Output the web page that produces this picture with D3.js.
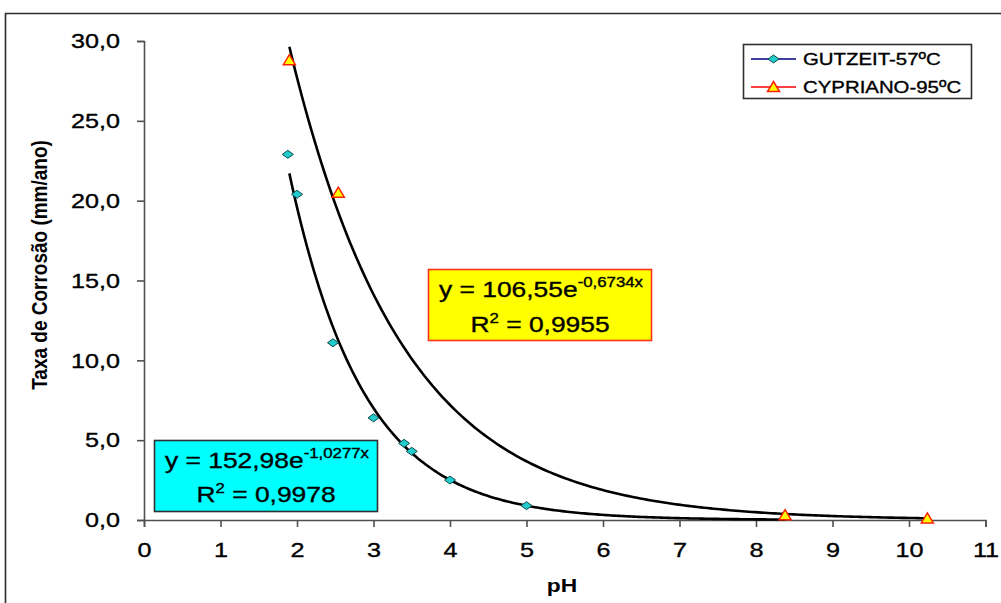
<!DOCTYPE html>
<html>
<head>
<meta charset="utf-8">
<script src="https://cdn.jsdelivr.net/npm/d3@7"></script>
<style>
  html, body { margin: 0; padding: 0; background: #fff; }
  svg { display: block; }
  text { font-family: "Liberation Sans", Arial, sans-serif; fill: #000; }
  text.heavy { stroke: #000; stroke-width: 0.35px; }
</style>
</head>
<body>
<svg id="chart" width="1001" height="603"></svg>
<script>
// ---- data ----
const gutzeitPH   = [1.88, 2.0, 2.47, 3.0, 3.4, 3.5, 4.0, 5.0];
const gutzeitRate = [22.9, 20.4, 11.1, 6.4, 4.8, 4.3, 2.5, 0.9];
const cyprianoPH   = [1.9, 2.54, 8.38, 10.24];
const cyprianoRate = [28.8, 20.5, 0.3, 0.1];
// exponential trend lines y = a * e^(b x), over their x ranges
const gutzeitFit  = [152.98, -1.0277];
const cyprianoFit = [106.55, -0.6734];
const gutzeitFitRange  = [1.9, 8.38];
const cyprianoFitRange = [1.9, 10.24];
const xTicks = [0,1,2,3,4,5,6,7,8,9,10,11];
const yTicks = [0,5,10,15,20,25,30];
const seriesNames = ["GUTZEIT-57ºC", "CYPRIANO-95ºC"];
const xTitle = "pH";
const yTitle = "Taxa de Corrosão (mm/ano)";

const SX = 1.2; // horizontal text stretch seen in the picture
const svg = d3.select("#chart");

// outer frame (left + top edges visible)
svg.append("path")
  .attr("d", "M5.5,603 L5.5,13.5 L1001,13.5")
  .attr("fill", "none").attr("stroke", "#2a2a2a").attr("stroke-width", 1.6);

const x = d3.scaleLinear().domain([0, 11]).range([144, 985.5]);
const y = d3.scaleLinear().domain([0, 30]).range([520, 41]);

function stretchAround(sel, ax, ay) {
  sel.attr("transform", `translate(${ax},${ay}) scale(${SX},1) translate(${-ax},${-ay})`);
}

// axes
const xAxis = d3.axisBottom(x).tickValues(xTicks).tickFormat(d3.format("d"))
  .tickSize(7).tickPadding(15);
const yAxis = d3.axisLeft(y).tickValues(yTicks)
  .tickFormat(d => d3.format(".1f")(d).replace(".", ","))
  .tickSize(7).tickPadding(17);

const gx = svg.append("g").attr("transform", `translate(0,${y(0)})`).call(xAxis);
const gy = svg.append("g").attr("transform", `translate(${x(0)},0)`).call(yAxis);
[gx, gy].forEach(g => {
  g.selectAll("path, line").attr("stroke", "#505050").attr("stroke-width", 1.6);
  g.selectAll("text").attr("font-size", 21).attr("class", "heavy")
    .attr("font-family", "Liberation Sans, Arial, sans-serif").attr("fill", "#000");
});
gx.selectAll(".tick text").each(function() { stretchAround(d3.select(this), 0, 0); });
gy.selectAll(".tick text").each(function() { stretchAround(d3.select(this), -24, 0); });

// axis titles
svg.append("text").text(xTitle)
  .attr("x", 562).attr("y", 592).attr("text-anchor", "middle")
  .attr("font-size", 19).attr("font-weight", "bold")
  .call(s => stretchAround(s, 562, 592));

svg.append("g").attr("transform", `translate(47,265) scale(${SX},1) rotate(-90)`)
  .append("text").text(yTitle)
  .attr("text-anchor", "middle").attr("font-size", 19).attr("font-weight", "bold");

// trend lines
function fitPoints(fit, range) {
  const n = 200, pts = [];
  for (let i = 0; i <= n; i++) {
    const xv = range[0] + (range[1] - range[0]) * i / n;
    pts.push([xv, fit[0] * Math.exp(fit[1] * xv)]);
  }
  return pts;
}
const line = d3.line().x(d => x(d[0])).y(d => y(d[1])).curve(d3.curveLinear);
[[gutzeitFit, gutzeitFitRange], [cyprianoFit, cyprianoFitRange]].forEach(([f, r]) => {
  svg.append("path").attr("d", line(fitPoints(f, r)))
    .attr("fill", "none").attr("stroke", "#000").attr("stroke-width", 2.6);
});

// markers
const diamond = "M0,-4 L5.5,0 L0,4 L-5.5,0 Z";
const triangle = "M0,-5.5 L6,4.5 L-6,4.5 Z";
svg.append("g").selectAll("path").data(gutzeitPH.map((p, i) => [p, gutzeitRate[i]]))
  .join("path").attr("d", diamond)
  .attr("transform", d => `translate(${x(d[0])},${y(d[1])})`)
  .attr("fill", "#22cccc").attr("stroke", "#0b4a4a").attr("stroke-width", 1);
svg.append("g").selectAll("path").data(cyprianoPH.map((p, i) => [p, cyprianoRate[i]]))
  .join("path").attr("d", triangle)
  .attr("transform", d => `translate(${x(d[0])},${y(d[1])})`)
  .attr("fill", "#ffff00").attr("stroke", "#ff2000").attr("stroke-width", 1.5);

// equation boxes
function eqBox(bx, by, bw, bh, fill, stroke, a, b, r2, base1, base2) {
  const g = svg.append("g");
  g.append("rect").attr("x", bx).attr("y", by).attr("width", bw).attr("height", bh)
    .attr("fill", fill).attr("stroke", stroke).attr("stroke-width", 1.6);
  const cx = bx + bw / 2;
  const t1 = g.append("text").attr("x", cx + 1).attr("y", base1).attr("text-anchor", "middle")
    .attr("font-size", 22).attr("class", "heavy");
  t1.append("tspan").text(`y = ${a}e`);
  t1.append("tspan").attr("dy", -10).attr("font-size", 14).text(`${b}x`);
  stretchAround(t1, cx + 1, base1);
  const t2 = g.append("text").attr("x", cx).attr("y", base2).attr("text-anchor", "middle")
    .attr("font-size", 22).attr("class", "heavy");
  t2.append("tspan").text("R");
  t2.append("tspan").attr("dy", -9).attr("font-size", 14).text("2");
  t2.append("tspan").attr("dy", 9).text(` = ${r2}`);
  stretchAround(t2, cx, base2);
}
eqBox(428.5, 269.5, 223, 71, "#ffff00", "#ff3020", "106,55", "-0,6734", "0,9955", 297, 332);
eqBox(154.5, 440.5, 223, 71, "#00ffff", "#303030", "152,98", "-1,0277", "0,9978", 468, 502);

// legend
const lg = svg.append("g");
lg.append("rect").attr("x", 743.5).attr("y", 44.5).attr("width", 228).attr("height", 54)
  .attr("fill", "#fff").attr("stroke", "#303030").attr("stroke-width", 1.6);
const legendRows = [
  { name: seriesNames[0], y: 59, stroke: "#000080", mark: diamond, fill: "#22cccc", mstroke: "#0b4a4a", mw: 1 },
  { name: seriesNames[1], y: 87, stroke: "#ff0000", mark: triangle, fill: "#ffff00", mstroke: "#ff2000", mw: 1.5 }
];
legendRows.forEach(r => {
  lg.append("line").attr("x1", 751).attr("x2", 796).attr("y1", r.y).attr("y2", r.y)
    .attr("stroke", r.stroke).attr("stroke-width", 1.5);
  lg.append("path").attr("d", r.mark).attr("transform", `translate(773.5,${r.y})`)
    .attr("fill", r.fill).attr("stroke", r.mstroke).attr("stroke-width", r.mw);
  const t = lg.append("text").attr("x", 803).attr("y", r.y + 6).attr("font-size", 17)
    .attr("class", "heavy").text(r.name);
  stretchAround(t, 803, r.y + 6);
});
</script>
</body>
</html>
